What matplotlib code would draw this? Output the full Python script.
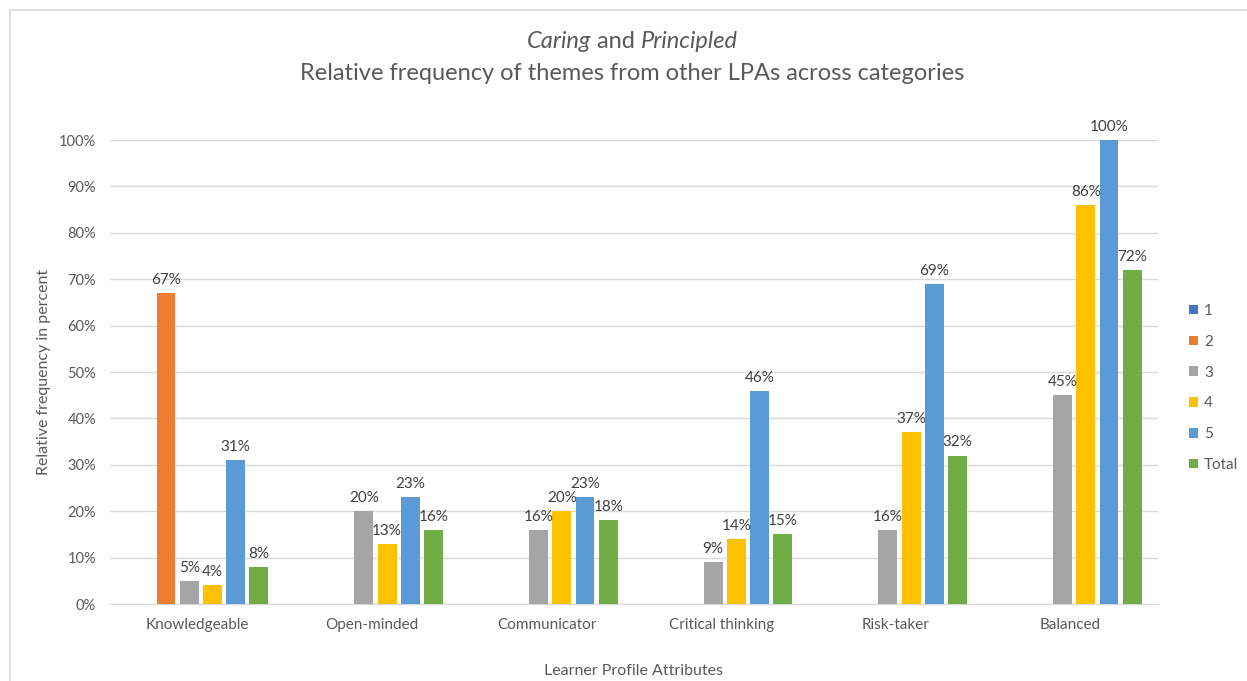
import matplotlib
matplotlib.use("Agg")
import matplotlib.pyplot as plt
import numpy as np
from matplotlib.patches import Rectangle

categories = ["Knowledgeable", "Open-minded", "Communicator", "Critical thinking", "Risk-taker", "Balanced"]
series_names = ["1", "2", "3", "4", "5", "Total"]
s1 = [0, 0, 0, 0, 0, 0]
s2 = [67, 0, 0, 0, 0, 0]
s3 = [5, 20, 16, 9, 16, 45]
s4 = [4, 13, 20, 14, 37, 86]
s5 = [31, 23, 23, 46, 69, 100]
total = [8, 16, 18, 15, 32, 72]
yticks = [0, 10, 20, 30, 40, 50, 60, 70, 80, 90, 100]
colors = ["#4472C4", "#ED7D31", "#A5A5A5", "#FFC000", "#5B9BD5", "#70AD47"]

FONT = ["Lato", "DejaVu Sans"]
plt.rcParams['font.family'] = FONT

W, H = 1247, 681
fig = plt.figure(figsize=(W / 100, H / 100), dpi=100)
fig.patch.set_facecolor("white")

# outer chart border
fig.add_artist(Rectangle((10 / W, -0.05), 1.1, 1 - 10 / H + 0.05, transform=fig.transFigure,
                         fill=False, edgecolor="#D9D9D9", linewidth=1.2))

ax = fig.add_axes([110 / W, 1 - 604 / H, (1158 - 110) / W, (604 - 140) / H])
data = [s1, s2, s3, s4, s5, total]
x = np.arange(len(categories))
slot = 0.133
bw = 0.108
for i, (vals, c, name) in enumerate(zip(data, colors, series_names)):
    pos = x + (i - 2.5) * slot + 0.02
    ax.bar(pos, vals, width=bw, color=c, label=name, zorder=3)
    for p, v in zip(pos, vals):
        if v > 0:
            ax.text(p, v + 1.3, f"{v}%", ha="center", va="bottom", fontsize=11,
                    color="#404040", zorder=4)

ax.set_xlim(-0.5, 5.5)
ax.set_ylim(0, 100)
ax.set_yticks(yticks)
ax.set_yticklabels([f"{t}%" for t in yticks], fontsize=10.5, color="#595959")
ax.set_xticks(x)
ax.set_xticklabels(categories, fontsize=11, color="#595959")
ax.tick_params(axis="both", length=0)
ax.tick_params(axis="x", pad=10)
ax.tick_params(axis="y", pad=10)
ax.grid(axis="y", color="#D9D9D9", linewidth=1, zorder=0)
for s in ["top", "right", "left"]:
    ax.spines[s].set_visible(False)
ax.spines["bottom"].set_color("#D9D9D9")
ax.set_axisbelow(True)

ax.set_ylabel("Relative frequency in percent", fontsize=11.5, color="#595959", labelpad=6)
fig.text((110 + 1158) / 2 / W, 1 - 671 / H, "Learner Profile Attributes", ha="center", va="center",
         fontsize=11.5, color="#595959")

# legend
handles, labels = ax.get_legend_handles_labels()
leg = fig.legend(handles, labels, loc="center left", bbox_to_anchor=(1175 / W, 1 - 388 / H),
                 frameon=False, fontsize=11, handlelength=0.6, handleheight=0.6,
                 labelspacing=1.1, handletextpad=0.4)
for t in leg.get_texts():
    t.set_color("#595959")

# title line 1 with mixed italic
fig.canvas.draw()
r = fig.canvas.get_renderer()
parts = [("Caring", "italic"), (" and ", "normal"), ("Principled", "italic")]
ty = 1 - 41 / H
objs = []
for s, st in parts:
    t = fig.text(0, ty, s, fontsize=17, style=st, color="#595959", va="center", ha="left")
    objs.append(t)
widths = [o.get_window_extent(r).width for o in objs]
tot = sum(widths)
xs = W / 2 + 9 - tot / 2
for o, w in zip(objs, widths):
    o.set_x(xs / W)
    xs += w
fig.text((W / 2 + 9) / W, 1 - 73 / H, "Relative frequency of themes from other LPAs across categories",
         fontsize=17, color="#595959", ha="center", va="center")

fig.savefig("out.png", dpi=100)
